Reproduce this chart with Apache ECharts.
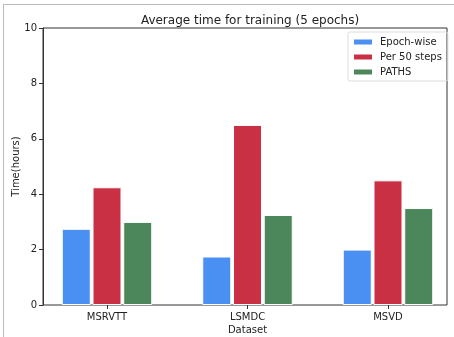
<!DOCTYPE html>
<html><head><meta charset="utf-8">
<script src="https://cdn.jsdelivr.net/npm/echarts@6/dist/echarts.min.js"></script>
<style>html,body{margin:0;padding:0;background:#fff}#c{width:454px;height:337px}</style>
</head><body><div id="c"></div>
<script>
const categories = ['MSRVTT', 'LSMDC', 'MSVD'];
const seriesNames = ['Epoch-wise', 'Per 50 steps', 'PATHS'];
const epochWise = [2.75, 1.75, 2.0];
const per50Steps = [4.25, 6.5, 4.5];
const paths = [3.0, 3.25, 3.5];
const yTicks = [0, 2, 4, 6, 8, 10];

const colors = ['#4a8ff2', '#c93043', '#4b875a'];
const font = 'DejaVu Sans';
const chart = echarts.init(document.getElementById('c'));
const mk = (name, data, i) => ({
  name, type: 'bar', data, xAxisIndex: 1, yAxisIndex: 1,
  barWidth: 29, barGap: '6%',
  itemStyle: { color: colors[i], borderColor: '#fff', borderWidth: 1 }
});
chart.setOption({
  animation: false,
  title: { text: 'Average time for training (5 epochs)', left: 245, top: 10, textAlign: 'center',
    textStyle: { fontFamily: font, fontSize: 12, fontWeight: 'normal', color: '#222' } },
  legend: {
    left: 348, top: 32, orient: 'vertical', itemWidth: 20, itemHeight: 7, itemGap: 5,
    padding: [5, 6, 4, 4], borderColor: '#ddd', borderWidth: 1, borderRadius: 2,
    icon: 'rect', data: seriesNames,
    textStyle: { fontFamily: font, fontSize: 10, color: '#222', padding: [0, 0, 0, 2] }
  },
  grid: [
    { left: 43, top: 28, width: 404, height: 277, show: true, borderColor: '#333', borderWidth: 1,
      backgroundColor: 'transparent', outerBoundsMode: 'none', containLabel: false },
    { left: 36.75, top: 28, width: 421.5, height: 277, outerBoundsMode: 'none', containLabel: false }
  ],
  xAxis: [
    { gridIndex: 0, type: 'value', min: 0, max: 1, show: false },
    { gridIndex: 1, type: 'category', data: categories,
      name: 'Dataset', nameLocation: 'middle', nameGap: 20, nameMoveOverlap: false,
      nameTextStyle: { fontFamily: font, fontSize: 10, color: '#222' },
      axisLine: { show: false },
      axisTick: { show: true, alignWithLabel: true, length: 4, lineStyle: { color: '#333' } },
      axisLabel: { fontFamily: font, fontSize: 10, color: '#222', margin: 7 } }
  ],
  yAxis: [
    { gridIndex: 0, type: 'value', min: 0, max: 10, interval: 2,
      name: 'Time(hours)', nameLocation: 'middle', nameGap: 22, nameRotate: 90, nameMoveOverlap: false,
      nameTextStyle: { fontFamily: font, fontSize: 10, color: '#222' },
      axisLine: { show: true, lineStyle: { color: '#333' } },
      axisTick: { show: true, length: 4, lineStyle: { color: '#333' } },
      splitLine: { show: false },
      axisLabel: { fontFamily: font, fontSize: 10, color: '#222', margin: 6,
        formatter: v => yTicks.includes(v) ? String(v) : '' } },
    { gridIndex: 1, type: 'value', min: 0, max: 10, show: false }
  ],
  series: [mk(seriesNames[0], epochWise, 0), mk(seriesNames[1], per50Steps, 1), mk(seriesNames[2], paths, 2)],
  graphic: [
    { type: 'line', shape: { x1: 3, y1: 4.5, x2: 454, y2: 4.5 }, style: { stroke: '#bbb', lineWidth: 1 } },
    { type: 'line', shape: { x1: 3.5, y1: 4, x2: 3.5, y2: 337 }, style: { stroke: '#bbb', lineWidth: 1 } }
  ]
});
</script></body></html>
